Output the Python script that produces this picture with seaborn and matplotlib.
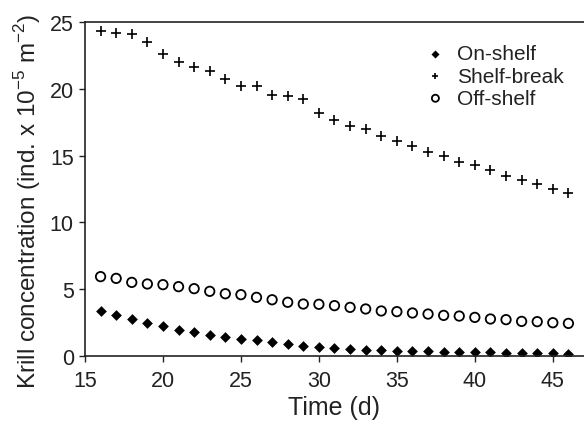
import numpy as np
import pandas as pd
import matplotlib
matplotlib.use("Agg")
import matplotlib.pyplot as plt
import seaborn as sns

days = list(range(16, 47))

on_shelf = [3.37, 3.09, 2.77, 2.47, 2.27, 1.97, 1.77, 1.60, 1.42, 1.30,
            1.17, 1.07, 0.87, 0.75, 0.67, 0.60, 0.52, 0.47, 0.45, 0.40,
            0.37, 0.35, 0.32, 0.30, 0.27, 0.27, 0.26, 0.24, 0.23, 0.20, 0.18]
shelf_break = [24.3, 24.2, 24.1, 23.5, 22.6, 22.0, 21.6, 21.3, 20.7, 20.2,
               20.2, 19.5, 19.45, 19.2, 18.2, 17.7, 17.25, 17.0, 16.5, 16.1,
               15.7, 15.3, 15.0, 14.5, 14.3, 13.95, 13.5, 13.2, 12.9, 12.5, 12.2]
off_shelf = [5.94, 5.81, 5.51, 5.39, 5.34, 5.19, 5.04, 4.84, 4.66, 4.59,
             4.39, 4.21, 4.02, 3.89, 3.87, 3.77, 3.64, 3.52, 3.37, 3.32,
             3.22, 3.14, 3.04, 2.99, 2.89, 2.77, 2.72, 2.59, 2.57, 2.49, 2.44]

df = pd.DataFrame({"day": days, "On-shelf": on_shelf,
                   "Shelf-break": shelf_break, "Off-shelf": off_shelf})

sns.set_style("ticks")
plt.rcParams["font.family"] = ["Liberation Sans", "DejaVu Sans"]
plt.rcParams["mathtext.fontset"] = "custom"
plt.rcParams["mathtext.rm"] = "Liberation Sans"
plt.rcParams["text.color"] = "#222222"
plt.rcParams["axes.labelcolor"] = "#222222"
plt.rcParams["xtick.labelcolor"] = "#222222"
plt.rcParams["ytick.labelcolor"] = "#222222"

fig = plt.figure(figsize=(5.84, 4.31), dpi=100)
ax = fig.add_axes([0.1455, 0.1717, 0.8545, 0.775])

sns.scatterplot(data=df, x="day", y="On-shelf", marker="D", s=30,
                color="black", edgecolor="black", linewidth=0, ax=ax, label="On-shelf")
sns.scatterplot(data=df, x="day", y="Shelf-break", marker="+", s=42,
                color="black", linewidth=1.2, ax=ax, label="Shelf-break")
sns.scatterplot(data=df, x="day", y="Off-shelf", marker="o", s=46,
                facecolors="none", edgecolor="black", linewidth=1.3, ax=ax, label="Off-shelf")

ax.set_xlim(15, 47)
ax.set_ylim(0, 25)
ax.set_xticks([15, 20, 25, 30, 35, 40, 45])
ax.set_yticks([0, 5, 10, 15, 20, 25])
ax.tick_params(labelsize=15.5, length=4, width=1, color="#222222", pad=4)
ax.tick_params(axis="x", pad=6)
ax.set_xlabel("Time (d)", fontsize=18, labelpad=3)
ax.set_ylabel(r"Krill concentration (ind. x 10$^{-5}$ m$^{-2}$)", fontsize=17.5)
ax.yaxis.set_label_coords(-0.085, 0.465)

for side in ["left", "bottom", "top"]:
    ax.spines[side].set_linewidth(1.2)
    ax.spines[side].set_color("#222222")
ax.spines["right"].set_visible(False)

leg = ax.legend(loc="upper right", bbox_to_anchor=(0.985, 0.97), frameon=False,
                fontsize=15, handletextpad=0.05, labelspacing=0.15,
                borderaxespad=0.2, markerscale=0.75)

fig.savefig("out.png", dpi=100)
